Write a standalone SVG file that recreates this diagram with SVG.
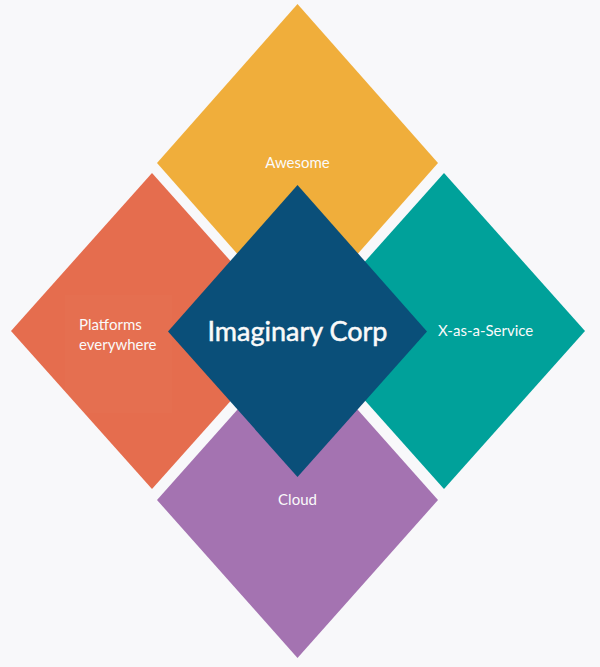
<svg xmlns="http://www.w3.org/2000/svg" width="600" height="667" viewBox="0 0 600 667">
<style>
.lbl{font-family:Lato,"Open Sans","Liberation Sans",sans-serif;fill:#FAFAFA;font-size:15px}
.mid{text-anchor:middle}
.big{font-family:Lato,"Open Sans","Liberation Sans",sans-serif;fill:#FAFAFA;font-size:27px;text-anchor:middle;stroke:#FAFAFA;stroke-width:0.5}
</style>
<rect width="600" height="667" fill="#F8F8FA"/>
<g id="awesome">
<polygon points="297.5,4 438,163 297.5,322 157,163" fill="#F0AE3B"/>
<text class="lbl mid" x="297.5" y="168">Awesome</text>
</g>
<g id="platforms">
<polygon points="152,173 293,331 152,489 11,331" fill="#E56D4E"/>
<rect x="65" y="295" width="107" height="118" fill="#FFFFFF" opacity="0.015"/>
<text class="lbl" x="79" y="330">Platforms</text>
<text class="lbl" x="79" y="350">everywhere</text>
</g>
<g id="xaas">
<polygon points="444,173 585,331 444,489 303,331" fill="#00A19A"/>
<text class="lbl" x="438" y="336">X-as-a-Service</text>
</g>
<g id="cloud">
<polygon points="297.5,342 438,500 297.5,658 157,500" fill="#A473B1"/>
<text class="lbl mid" x="297.5" y="505">Cloud</text>
</g>
<g id="center">
<polygon points="297.5,185 427,331.5 297.5,477 168,331.5" fill="#0A4F79"/>
<text class="big" x="297.5" y="341">Imaginary Corp</text>
</g>
<g id="connectors"></g>
</svg>
